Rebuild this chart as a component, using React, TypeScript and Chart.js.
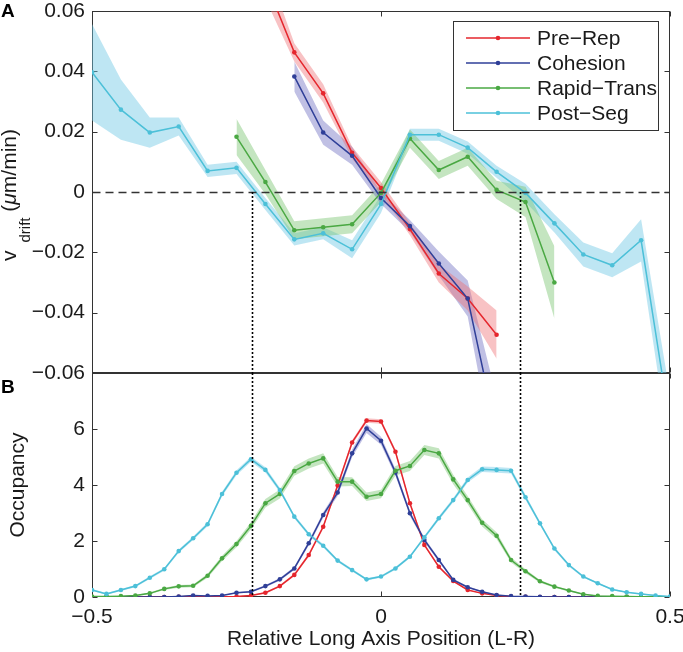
import React, { useEffect, useRef } from 'react';
import { Chart, registerables } from 'chart.js';
Chart.register(...registerables);

// ---------------- data ----------------
const seriesNames = ['Pre\u2212Rep', 'Cohesion', 'Rapid\u2212Trans', 'Post\u2212Seg'];

// Panel A: drift velocity (µm/min)
const xPreRepA = [-0.2, -0.15, -0.1, -0.05, 0, 0.05, 0.1, 0.15, 0.2];
const vPreRepA = [0.07, 0.0463, 0.0327, 0.013, 0.0013, -0.0123, -0.027, -0.0353, -0.0473];
const ePreRepA = [0.006, 0.003, 0.003, 0.002, 0.002, 0.002, 0.003, 0.004, 0.008];

const xCohesionA = [-0.15, -0.1, -0.05, 0, 0.05, 0.1, 0.15, 0.2];
const vCohesionA = [0.0383, 0.0197, 0.012, -0.002, -0.0113, -0.0237, -0.0353, -0.08];
const eCohesionA = [0.005, 0.004, 0.003, 0.002, 0.002, 0.004, 0.006, 0.012];

const xRapidA = [-0.25, -0.2, -0.15, -0.1, -0.05, 0, 0.05, 0.1, 0.15, 0.2, 0.25, 0.3];
const vRapidA = [0.0183, 0.0033, -0.0127, -0.0117, -0.0107, -0.0003, 0.0177, 0.0073, 0.0117, 0.0007, -0.0033, -0.03];
const eRapidA = [0.006, 0.004, 0.003, 0.003, 0.003, 0.003, 0.003, 0.003, 0.003, 0.003, 0.005, 0.012];

const xPostA = [-0.5, -0.45, -0.4, -0.35, -0.3, -0.25, -0.2, -0.15, -0.1, -0.05, 0, 0.05, 0.1, 0.15, 0.2, 0.25, 0.3, 0.35, 0.4, 0.45, 0.5];
const vPostA = [0.0397, 0.0273, 0.0197, 0.0217, 0.007, 0.008, -0.004, -0.0157, -0.0137, -0.019, -0.004, 0.019, 0.019, 0.0147, 0.0067, -0.0003, -0.0104, -0.0207, -0.0243, -0.016, -0.077];
const ePostA = [0.016, 0.01, 0.005, 0.003, 0.002, 0.002, 0.002, 0.002, 0.002, 0.003, 0.003, 0.002, 0.002, 0.002, 0.002, 0.003, 0.003, 0.004, 0.004, 0.007, 0.01];

// Panel B: occupancy
const xB = [-0.5, -0.475, -0.45, -0.425, -0.4, -0.375, -0.35, -0.325, -0.3, -0.275, -0.25, -0.225, -0.2, -0.175, -0.15, -0.125, -0.1, -0.075, -0.05, -0.025, 0, 0.025, 0.05, 0.075, 0.1, 0.125, 0.15, 0.175, 0.2, 0.225, 0.25, 0.275, 0.3, 0.325, 0.35, 0.375, 0.4, 0.425, 0.45, 0.475, 0.5];
const vPreRepB = [0, 0, 0, 0, 0, 0, 0.01, 0.02, 0.01, 0.01, 0.02, 0.05, 0.15, 0.39, 0.79, 1.5, 2.51, 3.98, 5.52, 6.3, 6.27, 5.19, 3.35, 1.86, 1.08, 0.57, 0.25, 0.13, 0.05, 0.02, 0.01, 0, 0, 0, 0, 0, 0, 0, 0, 0, 0];
const ePreRepB = [0, 0, 0, 0, 0, 0, 0.01, 0.01, 0.01, 0.01, 0.01, 0.02, 0.03, 0.04, 0.05, 0.06, 0.07, 0.08, 0.08, 0.08, 0.08, 0.08, 0.07, 0.05, 0.04, 0.03, 0.02, 0.01, 0.01, 0.01, 0, 0, 0, 0, 0, 0, 0, 0, 0, 0, 0];
const vCohesionB = [0, 0, 0, 0, 0, 0, 0.02, 0.05, 0.04, 0.05, 0.15, 0.19, 0.39, 0.63, 1.02, 1.92, 2.93, 3.73, 5.13, 6.02, 5.58, 4.45, 2.99, 2.04, 1.32, 0.61, 0.35, 0.19, 0.07, 0.03, 0.02, 0.01, 0, 0, 0, 0, 0, 0, 0, 0, 0];
const eCohesionB = [0, 0, 0, 0, 0, 0, 0.01, 0.01, 0.01, 0.01, 0.02, 0.03, 0.04, 0.05, 0.06, 0.08, 0.1, 0.12, 0.14, 0.16, 0.14, 0.12, 0.1, 0.08, 0.06, 0.04, 0.03, 0.02, 0.01, 0.01, 0.01, 0, 0, 0, 0, 0, 0, 0, 0, 0, 0];
const vRapidB = [0.02, 0.02, 0.03, 0.05, 0.13, 0.29, 0.38, 0.4, 0.76, 1.38, 1.89, 2.54, 3.35, 3.68, 4.5, 4.77, 4.95, 4.12, 4.12, 3.58, 3.68, 4.51, 4.68, 5.25, 5.13, 4.2, 3.46, 2.65, 2.19, 1.32, 0.92, 0.56, 0.37, 0.23, 0.1, 0.04, 0.03, 0.02, 0.01, 0.01, 0];
const eRapidB = [0.01, 0.01, 0.01, 0.02, 0.03, 0.04, 0.05, 0.05, 0.07, 0.09, 0.11, 0.13, 0.15, 0.16, 0.17, 0.18, 0.18, 0.17, 0.16, 0.15, 0.15, 0.17, 0.18, 0.18, 0.18, 0.17, 0.15, 0.13, 0.12, 0.09, 0.07, 0.05, 0.04, 0.03, 0.02, 0.01, 0.01, 0.01, 0.01, 0.01, 0];
const vPostB = [0.25, 0.11, 0.25, 0.39, 0.69, 0.99, 1.64, 2.1, 2.6, 3.68, 4.44, 4.92, 4.54, 3.82, 2.87, 2.24, 1.83, 1.3, 0.96, 0.63, 0.73, 1.02, 1.44, 2.13, 2.81, 3.46, 4.18, 4.56, 4.54, 4.51, 3.56, 2.63, 1.73, 1.14, 0.73, 0.49, 0.27, 0.17, 0.11, 0.05, 0.02];
const ePostB = [0.04, 0.03, 0.04, 0.04, 0.05, 0.05, 0.06, 0.06, 0.07, 0.08, 0.09, 0.09, 0.09, 0.08, 0.07, 0.06, 0.06, 0.05, 0.05, 0.04, 0.04, 0.05, 0.05, 0.06, 0.07, 0.08, 0.09, 0.1, 0.1, 0.1, 0.09, 0.07, 0.06, 0.05, 0.04, 0.03, 0.03, 0.02, 0.02, 0.02, 0.01];

// vertical dotted marker positions
const dividerX = [-0.223, 0.2405];

// axis ticks
const yTicksA = [-0.06, -0.04, -0.02, 0, 0.02, 0.04, 0.06];
const yTicksB = [0, 2, 4, 6];
const xTickLabels = [-0.5, 0, 0.5];

// ---------------- style ----------------
const FONT = '"Liberation Sans", Arial, Helvetica, sans-serif';
const W = 683, H = 652;
const PLOT_LEFT = 92, PLOT_RIGHT = 670, TOP_Y = 11, SPLIT_Y = 373, BOTTOM_Y = 597;
const AXIS = '#333333';
const TEXT = '#1a1a1a';
const LINE_COLORS = ['#e5262d', '#2f3f98', '#4aa843', '#4cc0d8'];
const BAND_COLORS = ['rgba(238,110,115,0.42)', 'rgba(105,105,190,0.42)', 'rgba(115,192,105,0.42)', 'rgba(110,200,228,0.45)'];

const pts = (xs: number[], ys: number[]) => xs.map((x, i) => ({ x, y: ys[i] }));
const shift = (ys: number[], es: number[], s: number) => ys.map((v, i) => v + s * es[i]);

function buildDatasets(xsList: number[][], vList: number[][], eList: number[][], radius: number) {
  const lines: any[] = [];
  const bands: any[] = [];
  for (let k = 0; k < 4; k++) {
    lines.push({
      label: seriesNames[k],
      data: pts(xsList[k], vList[k]),
      borderColor: LINE_COLORS[k],
      backgroundColor: LINE_COLORS[k],
      borderWidth: 1.5,
      pointRadius: radius,
      pointBorderWidth: 0,
      pointBackgroundColor: LINE_COLORS[k],
      fill: false,
      tension: 0,
      order: 3 - k,
    });
  }
  for (let k = 0; k < 4; k++) {
    bands.push({
      label: seriesNames[k] + ' hi',
      data: pts(xsList[k], shift(vList[k], eList[k], 1)),
      borderColor: 'rgba(0,0,0,0)',
      borderWidth: 0,
      pointRadius: 0,
      backgroundColor: BAND_COLORS[k],
      fill: '+1',
      tension: 0,
      order: 20 + k,
    });
    bands.push({
      label: seriesNames[k] + ' lo',
      data: pts(xsList[k], shift(vList[k], eList[k], -1)),
      borderColor: 'rgba(0,0,0,0)',
      borderWidth: 0,
      pointRadius: 0,
      backgroundColor: 'rgba(0,0,0,0)',
      fill: false,
      tension: 0,
      order: 20 + k,
    });
  }
  return [...lines, ...bands];
}

function fmtA(v: number) {
  const r = Math.round(v * 100) / 100;
  if (r === 0) return '0';
  return (r < 0 ? '\u2212' : '') + Math.abs(r).toFixed(2);
}
function fmtX(v: number) {
  const r = Math.round(v * 10) / 10;
  if (r === 0) return '0';
  return (r < 0 ? '\u2212' : '') + Math.abs(r).toString();
}

type Part = { text: string; font: string; dy: number; gap?: number };
function drawRotatedRich(ctx: CanvasRenderingContext2D, x: number, cy: number, parts: Part[]) {
  ctx.save();
  let total = 0;
  const widths = parts.map((p) => { ctx.font = p.font; const w = ctx.measureText(p.text).width + (p.gap || 0); total += w; return w; });
  ctx.translate(x, cy);
  ctx.rotate(-Math.PI / 2);
  ctx.fillStyle = TEXT;
  ctx.textBaseline = 'alphabetic';
  ctx.textAlign = 'left';
  let cx = -total / 2;
  parts.forEach((p, i) => { ctx.font = p.font; ctx.fillText(p.text, cx, p.dy); cx += widths[i]; });
  ctx.restore();
}

function makeDecor(panel: 'A' | 'B') {
  const frame = (chart: any) => {
    const { chartArea: a } = chart;
    return {
      L: Math.round(a.left) + 0.5, R: Math.round(a.right) - 0.5,
      T: Math.round(a.top) + 0.5, B: Math.round(a.bottom) - 0.5,
    };
  };
  return {
    id: 'decor' + panel,
    beforeDatasetsDraw(chart: any) {
      const { ctx, scales } = chart;
      const xs = scales.x, ys = scales.y;
      const { L, R, T, B } = frame(chart);
      ctx.save();
      ctx.strokeStyle = AXIS;
      ctx.lineWidth = 1;
      ctx.strokeRect(L, T, R - L, B - T);
      const tl = 5;
      const yt = panel === 'A' ? yTicksA : yTicksB;
      ctx.beginPath();
      yt.forEach((v) => {
        const py = Math.round(ys.getPixelForValue(v)) + 0.5;
        ctx.moveTo(L, py); ctx.lineTo(L + tl, py);
        ctx.moveTo(R, py); ctx.lineTo(R - tl, py);
      });
      xTickLabels.forEach((v) => {
        const px = Math.round(xs.getPixelForValue(v)) + 0.5;
        ctx.moveTo(px, T); ctx.lineTo(px, T + tl);
        ctx.moveTo(px, B); ctx.lineTo(px, B - tl);
      });
      ctx.stroke();
      ctx.restore();
    },
    afterDraw(chart: any) {
      const { ctx, chartArea: a, scales } = chart;
      const xs = scales.x, ys = scales.y;
      const { L, R } = frame(chart);
      ctx.save();
      if (panel === 'A') {
        const y0 = Math.round(ys.getPixelForValue(0)) + 0.5;
        ctx.strokeStyle = '#333';
        ctx.lineWidth = 1.3;
        ctx.setLineDash([8, 5]);
        ctx.beginPath(); ctx.moveTo(L, y0); ctx.lineTo(R, y0); ctx.stroke();
      }
      ctx.setLineDash([2, 2]);
      ctx.strokeStyle = '#000';
      ctx.lineWidth = 1.6;
      dividerX.forEach((dx) => {
        const px = Math.round(xs.getPixelForValue(dx)) + 0.5;
        const yStart = panel === 'A' ? ys.getPixelForValue(0) : a.top;
        ctx.beginPath(); ctx.moveTo(px, yStart); ctx.lineTo(px, a.bottom); ctx.stroke();
      });
      ctx.setLineDash([]);

      if (panel === 'A') {
        const lx = 453.5, ly = 21.5, lw = 205, lh = 109;
        ctx.fillStyle = '#ffffff';
        ctx.fillRect(lx, ly, lw, lh);
        ctx.strokeStyle = AXIS;
        ctx.lineWidth = 1;
        ctx.strokeRect(lx, ly, lw, lh);
        seriesNames.forEach((name, k) => {
          const ry = 38 + k * 25;
          ctx.strokeStyle = LINE_COLORS[k];
          ctx.lineWidth = 1.5;
          ctx.beginPath(); ctx.moveTo(466, ry); ctx.lineTo(530, ry); ctx.stroke();
          ctx.fillStyle = LINE_COLORS[k];
          ctx.beginPath(); ctx.arc(498, ry, 2.3, 0, Math.PI * 2); ctx.fill();
          ctx.fillStyle = TEXT;
          ctx.font = `21px ${FONT}`;
          ctx.textAlign = 'left';
          ctx.textBaseline = 'middle';
          ctx.fillText(name, 537, ry + 1);
        });
        ctx.fillStyle = '#000';
        ctx.font = `bold 19px ${FONT}`;
        ctx.textAlign = 'left';
        ctx.textBaseline = 'middle';
        ctx.fillText('A', 1, 12);
        drawRotatedRich(ctx, 16, 195, [
          { text: 'v', font: `21px ${FONT}`, dy: 0, gap: 8 },
          { text: 'drift', font: `15px ${FONT}`, dy: 14 },
          { text: ' (', font: `21px ${FONT}`, dy: 0 },
          { text: '\u03bc', font: `italic 21px ${FONT}`, dy: 0 },
          { text: 'm/min)', font: `21px ${FONT}`, dy: 0 },
        ]);
      } else {
        ctx.fillStyle = '#000';
        ctx.font = `bold 19px ${FONT}`;
        ctx.textAlign = 'left';
        ctx.textBaseline = 'middle';
        ctx.fillText('B', 1, 388);
        drawRotatedRich(ctx, 24, 485, [{ text: 'Occupancy', font: `21px ${FONT}`, dy: 0 }]);
      }
      ctx.restore();
    },
  };
}

const tickFont = { family: FONT, size: 21 };

function App() {
  const refA = useRef<HTMLCanvasElement>(null);
  const refB = useRef<HTMLCanvasElement>(null);

  useEffect(() => {
    document.body.style.margin = '0';
    const common: any = {
      responsive: false,
      animation: false,
      events: [],
      plugins: { legend: { display: false }, tooltip: { enabled: false } },
    };

    const chartA = new Chart(refA.current!, {
      type: 'line',
      data: {
        datasets: buildDatasets(
          [xPreRepA, xCohesionA, xRapidA, xPostA],
          [vPreRepA, vCohesionA, vRapidA, vPostA],
          [ePreRepA, eCohesionA, eRapidA, ePostA],
          2.3
        ),
      },
      options: {
        ...common,
        layout: { padding: { left: 0, right: W - PLOT_RIGHT, top: TOP_Y, bottom: H - SPLIT_Y } },
        scales: {
          x: { type: 'linear', min: -0.5, max: 0.5, display: false },
          y: {
            type: 'linear', min: -0.06, max: 0.06,
            ticks: { stepSize: 0.02, font: tickFont, color: TEXT, padding: 7, callback: (v: any) => fmtA(Number(v)) },
            grid: { display: false, drawTicks: false },
            border: { display: false },
            afterFit: (s: any) => { s.width = PLOT_LEFT; s.paddingTop = 0; s.paddingBottom = 0; },
          },
        },
      } as any,
      plugins: [makeDecor('A')],
    });

    const chartB = new Chart(refB.current!, {
      type: 'line',
      data: {
        datasets: buildDatasets(
          [xB, xB, xB, xB],
          [vPreRepB, vCohesionB, vRapidB, vPostB],
          [ePreRepB, eCohesionB, eRapidB, ePostB],
          2.3
        ),
      },
      options: {
        ...common,
        layout: { padding: { left: 0, right: W - PLOT_RIGHT, top: SPLIT_Y, bottom: 0 } },
        scales: {
          x: {
            type: 'linear', min: -0.5, max: 0.5,
            ticks: { stepSize: 0.5, font: tickFont, color: TEXT, padding: 8, maxRotation: 0, autoSkip: false, callback: (v: any) => fmtX(Number(v)) },
            grid: { display: false, drawTicks: false },
            border: { display: false },
            title: { display: true, text: 'Relative Long Axis Position (L-R)', font: tickFont, color: TEXT, padding: { top: 0, bottom: 0 } },
            afterFit: (s: any) => { s.height = H - BOTTOM_Y; s.paddingLeft = 0; s.paddingRight = 0; },
          },
          y: {
            type: 'linear', min: 0, max: 8,
            ticks: { stepSize: 2, font: tickFont, color: TEXT, padding: 7, callback: (v: any) => (yTicksB.includes(Number(v)) ? String(v) : '') },
            grid: { display: false, drawTicks: false },
            border: { display: false },
            afterFit: (s: any) => { s.width = PLOT_LEFT; s.paddingTop = 0; s.paddingBottom = 0; },
          },
        },
      } as any,
      plugins: [makeDecor('B')],
    });

    return () => { chartA.destroy(); chartB.destroy(); };
  }, []);

  const cstyle: React.CSSProperties = { position: 'absolute', left: 0, top: 0, width: W, height: H };
  return (
    <div style={{ position: 'fixed', left: 0, top: 0, width: W, height: H, background: '#fff' }}>
      <canvas ref={refB} width={W} height={H} style={cstyle} />
      <canvas ref={refA} width={W} height={H} style={cstyle} />
    </div>
  );
}

export default App;
